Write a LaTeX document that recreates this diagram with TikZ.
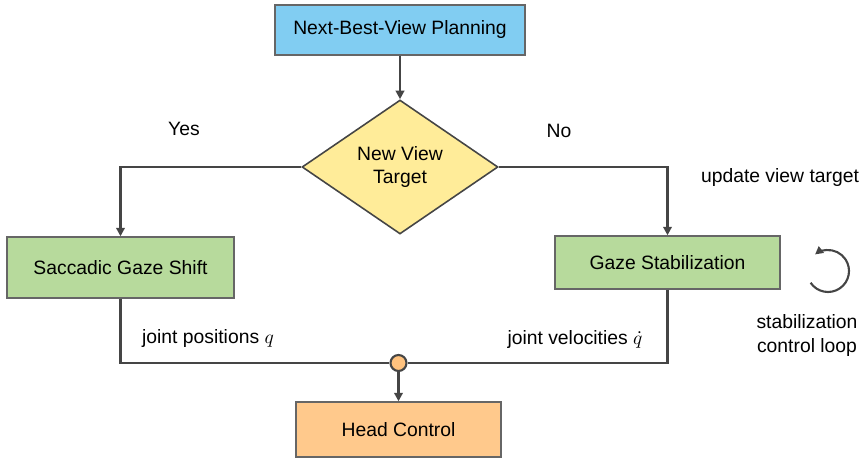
\documentclass[tikz,border=0pt]{standalone}
\usepackage{fontspec}
\setmainfont{Liberation Sans}
\usetikzlibrary{arrows.meta,shapes.geometric}
\definecolor{blueP}{HTML}{81CDF2}
\definecolor{yellowD}{HTML}{FFEC99}
\definecolor{greenS}{HTML}{B7DA9C}
\definecolor{orangeH}{HTML}{FFC98C}
\definecolor{lineG}{HTML}{454545}

\begin{document}
\begin{tikzpicture}[font=\fontsize{11}{13.5}\selectfont,
  box/.style={draw=black!60, line width=0.8pt, minimum height=10mm, align=center, inner sep=3pt},
  plan/.style={box, fill=blueP},
  act/.style={box, fill=greenS},
  ctrl/.style={box, fill=orangeH},
  decision/.style={diamond, draw=lineG, line width=0.9pt, fill=yellowD, align=center, inner sep=0pt, minimum width=39.2mm, minimum height=26.8mm},
  link/.style={lineG, line width=1.3pt},
  arr/.style={link, -{Triangle[length=1.7mm, width=1.7mm]}}]
\useasboundingbox (0,0) rectangle (173.2mm,91.6mm);
\node[plan, minimum width=50mm] (nbv) at (80mm,85.6mm) {Next-Best-View Planning};
\node[decision] (target) at (80mm,58.2mm) {New View\\Target};
\node[act, minimum width=45.4mm, minimum height=12.2mm] (saccade) at (24.1mm,38.1mm) {Saccadic Gaze Shift};
\node[act, minimum width=45mm, minimum height=10.6mm] (stab) at (133.5mm,39.1mm) {Gaze Stabilization};
\node[ctrl, minimum width=41mm, minimum height=11mm] (head) at (79.7mm,5.7mm) {Head Control};
\node[circle, draw=lineG, line width=1.2pt, fill=orangeH!90!orange, minimum size=3.2mm, inner sep=0pt] (merge) at (79.7mm,19mm) {};
% labels
\node (yes) at (36.8mm,65.8mm) {Yes};
\node (no) at (111.8mm,65.4mm) {No};
\node (update) at (156mm,56mm) {update view target};
\node (qpos) at (41.6mm,23.8mm) {joint positions $q$};
\node (qvel) at (115mm,23.6mm) {joint velocities $\dot q$};
\node[align=center] (loop) at (161.4mm,24.5mm) {stabilization\\control loop};
% connectors
\draw[arr] (nbv) -- (target);
\draw[arr] (target.west) -| (saccade.north);
\draw[arr] (target.east) -| (stab.north);
\draw[link] (saccade.south) |- (merge.west);
\draw[link] (stab.south) |- (merge.east);
\draw[arr] (merge) -- (head);
\coordinate (loopc) at (165.6mm,37.4mm);
\draw[link, line width=1.2pt, -{Triangle[length=1.6mm, width=1.6mm]}] (loopc) ++(-146:4.2mm) arc[start angle=-146, end angle=128, radius=4.2mm];
\end{tikzpicture}
\end{document}
